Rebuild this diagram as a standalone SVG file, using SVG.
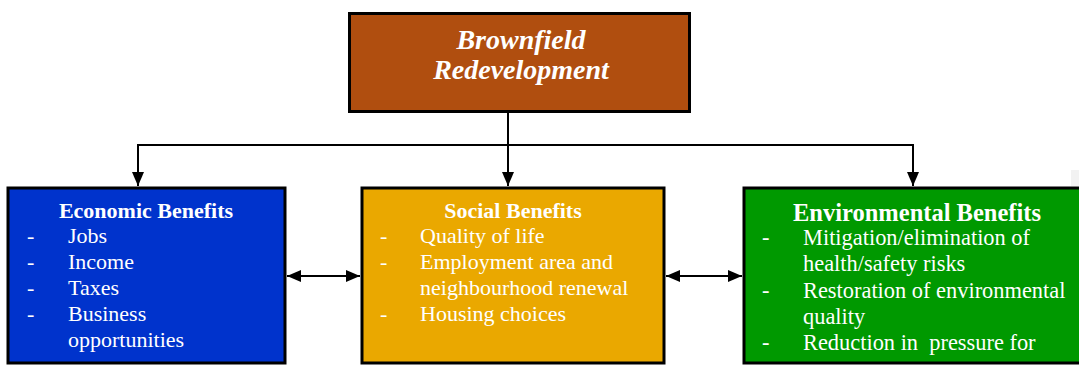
<svg xmlns="http://www.w3.org/2000/svg" width="1079" height="367" viewBox="0 0 1079 367">
  <style>
    .box { stroke: #000; stroke-width: 3; }
    .title { font-family: "Liberation Serif", "Times New Roman", serif; font-weight: bold; font-style: italic; font-size: 28px; fill: #fff; text-anchor: middle; }
    .head { font-family: "Liberation Serif", "Times New Roman", serif; font-weight: bold; font-size: 22px; fill: #fff; text-anchor: middle; }
    .item { font-family: "Liberation Serif", "Times New Roman", serif; font-size: 22px; fill: #fff; white-space: pre; }
    .env-head { font-size: 24.5px; }
    .env-item { font-size: 22.4px; }
    .conn { stroke: #000; stroke-width: 2; fill: none; }
  </style>
  <defs>
    <marker id="arrow" viewBox="0 0 14 12" refX="14" refY="6" markerWidth="14" markerHeight="12" markerUnits="userSpaceOnUse" orient="auto-start-reverse">
      <path d="M0,0 L14,6 L0,12 Z" fill="#000"/>
    </marker>
  </defs>

  <rect x="0" y="0" width="1079" height="367" fill="#fff"/>
  <rect x="1071" y="170" width="8" height="16" fill="#f2f2f2"/>

  <!-- connectors -->
  <g id="connectors">
    <path class="conn" d="M508,113 V186" marker-end="url(#arrow)"/>
    <path class="conn" d="M138,186 V145 H913 V186" marker-end="url(#arrow)"/>
    <path class="conn" d="M138,145 V186" marker-end="url(#arrow)"/>
    <path class="conn" d="M287,276 H360" marker-start="url(#arrow)" marker-end="url(#arrow)"/>
    <path class="conn" d="M666,276 H742" marker-start="url(#arrow)" marker-end="url(#arrow)"/>
  </g>

  <!-- root node -->
  <g id="brownfield">
    <rect class="box" x="349.5" y="13.5" width="340" height="98" fill="#b04e0f"/>
    <text class="title" x="521" y="49">Brownfield</text>
    <text class="title" x="521" y="79">Redevelopment</text>
  </g>

  <!-- economic -->
  <g id="economic">
    <rect class="box" x="8" y="188" width="277" height="175" fill="#0033cc"/>
    <text class="head" x="146" y="218">Economic Benefits</text>
    <text class="item" x="27" y="243">-</text><text class="item" x="68" y="243">Jobs</text>
    <text class="item" x="27" y="269">-</text><text class="item" x="68" y="269">Income</text>
    <text class="item" x="27" y="295">-</text><text class="item" x="68" y="295">Taxes</text>
    <text class="item" x="27" y="321">-</text><text class="item" x="68" y="321">Business</text>
    <text class="item" x="68" y="347">opportunities</text>
  </g>

  <!-- social -->
  <g id="social">
    <rect class="box" x="362" y="188" width="302" height="175" fill="#eaa800"/>
    <text class="head" x="513" y="218">Social Benefits</text>
    <text class="item" x="380" y="243">-</text><text class="item" x="420" y="243">Quality of life</text>
    <text class="item" x="380" y="269">-</text><text class="item" x="420" y="269">Employment area and</text>
    <text class="item" x="420" y="295">neighbourhood renewal</text>
    <text class="item" x="380" y="321">-</text><text class="item" x="420" y="321">Housing choices</text>
  </g>

  <!-- environmental -->
  <g id="environmental">
    <rect class="box" x="744" y="188" width="345" height="175" fill="#009900"/>
    <text class="head env-head" x="917" y="221">Environmental Benefits</text>
    <text class="item env-item" x="762" y="245">-</text><text class="item env-item" x="803" y="245">Mitigation/elimination of</text>
    <text class="item env-item" x="803" y="271">health/safety risks</text>
    <text class="item env-item" x="762" y="298">-</text><text class="item env-item" x="803" y="298">Restoration of environmental</text>
    <text class="item env-item" x="803" y="324">quality</text>
    <text class="item env-item" x="762" y="350">-</text><text class="item env-item" x="803" y="350" xml:space="preserve">Reduction in  pressure for</text>
  </g>
</svg>
